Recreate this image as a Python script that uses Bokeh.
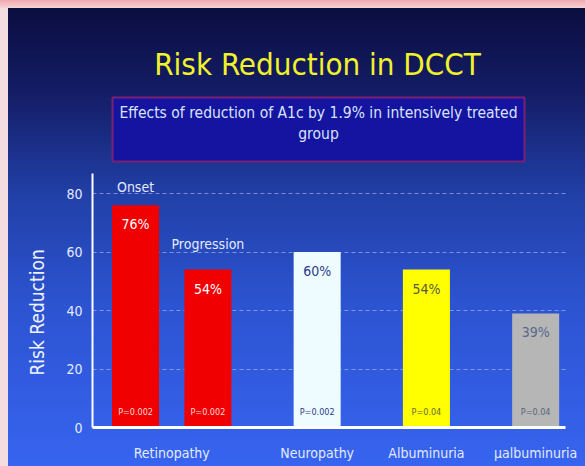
from bokeh.plotting import figure
from bokeh.models import (ColumnDataSource, FixedTicker, Label, BoxAnnotation, Title,
                          GlobalInlineStyleSheet)
from bokeh.core.properties import value
from bokeh.embed import file_html
from bokeh.resources import INLINE

# ---- data ----
categories = ["Retinopathy", "Retinopathy", "Neuropathy", "Albuminuria", "μalbuminuria"]
subgroups = ["Onset", "Progression", "", "", ""]
reductions = [76, 54, 60, 54, 39]
value_labels = ["76%", "54%", "60%", "54%", "39%"]
p_values = ["P=0.002", "P=0.002", "P=0.002", "P=0.04", "P=0.04"]
y_ticks = [0, 20, 40, 60, 80]
title_text = "Risk Reduction in DCCT"
subtitle_lines = ["Effects of reduction of A1c by 1.9% in intensively treated", "group"]
y_label = "Risk Reduction"

# ---- styles ----
bar_colors = ["#f00000", "#f00000", "#eefcff", "#ffff00", "#b6b6b6"]
value_text_colors = ["#ffffff", "#ffffff", "#2c3a86", "#5a5a40", "#56688a"]
p_text_colors = ["#ffd8d8", "#ffd8d8", "#2c3a86", "#6a6a30", "#5a6478"]
sub_offsets = [-18, -26, 0, 0, 0]
FONT = "DejaVu Sans Condensed"
TXT = "#e4eaff"
GROUP_GAP = 0.51

# bar positions: unit spacing inside a group, extra gap between groups
positions = []
for i, cat in enumerate(categories):
    if i == 0:
        positions.append(0.0)
    else:
        step = 1.0 if cat == categories[i - 1] else 1.0 + GROUP_GAP
        positions.append(positions[-1] + step)
group_names = []
for c in categories:
    if c not in group_names:
        group_names.append(c)
group_centers = [sum(pp for pp, c in zip(positions, categories) if c == g) /
                 sum(1 for c in categories if c == g) for g in group_names]

src = ColumnDataSource(dict(x=positions, top=reductions, label=value_labels,
                            sub=subgroups, pv=p_values, color=bar_colors,
                            vcolor=value_text_colors, pcolor=p_text_colors,
                            suboff=sub_offsets))

# ---- layout (pixels) ----
W, H = 585, 466
FL, FR, FB, FT = 92, 567, 427, 0          # frame edges
X0, X1 = -0.595, 5.97
Y1 = 146.0
def px_x(px):
    return X0 + (px - FL) * (X1 - X0) / (FR - FL)
def px_y(py):
    return (FB - py) * Y1 / (FB - FT)

p = figure(x_range=(X0, X1), y_range=(0, Y1), width=W, height=H,
           output_backend="svg", toolbar_location=None,
           min_border_left=FL, min_border_right=W - FR,
           min_border_top=FT, min_border_bottom=H - FB,
           background_fill_color=None, border_fill_color=None,
           outline_line_color=None)
p.styles = {"background": (
    "linear-gradient(#eda9ae, #f6d2d5) top left / 100% 8px no-repeat, "
    "linear-gradient(#f4dde0, #f4dde0) top left / 8px 100% no-repeat, "
    "linear-gradient(to bottom, #0a0c3c 0%, #141d66 20%, #2140a8 42%, #2c53d0 65%, #3764f0 100%)")}
p.stylesheets = [GlobalInlineStyleSheet(css="body { background: #f2d4d8; }")]

p.vbar(x="x", top="top", width=0.65, source=src, fill_color="color", line_color=None)
p.text(x="x", y="top", text="label", source=src, text_color="vcolor",
       text_font=value(FONT), text_font_size="14px", text_align="center",
       text_baseline="middle", y_offset=19)
p.text(x="x", y="top", text="sub", source=src, text_color=TXT,
       text_font=value(FONT), text_font_size="14px", text_align="center",
       text_baseline="middle", y_offset="suboff")
p.text(x="x", y=0, text="pv", source=src, text_color="pcolor",
       text_font=value(FONT), text_font_size="9px", text_align="center",
       text_baseline="middle", y_offset=-16)

# axes
p.yaxis.ticker = FixedTicker(ticks=y_ticks)
p.yaxis.bounds = (0, 87)
p.yaxis.axis_line_color = "white"
p.yaxis.axis_line_width = 2
p.yaxis.major_tick_line_color = None
p.yaxis.minor_tick_line_color = None
p.yaxis.major_label_text_color = TXT
p.yaxis.major_label_text_font_size = "14px"
p.yaxis.major_label_text_font = FONT
p.yaxis.major_label_standoff = 4

p.xaxis.ticker = FixedTicker(ticks=group_centers)
p.xaxis.bounds = (X0, px_x(565))
p.xaxis.major_label_overrides = {c: g for c, g in zip(group_centers, group_names)}
p.xaxis.axis_line_color = "white"
p.xaxis.axis_line_width = 3
p.xaxis.major_tick_line_color = None
p.xaxis.minor_tick_line_color = None
p.xaxis.major_label_text_font_size = "14px"
p.xaxis.major_label_text_font = FONT
p.xaxis.major_label_text_color = TXT
p.xaxis.major_label_standoff = 11

p.xgrid.grid_line_color = None
p.ygrid.grid_line_color = "#c0ccff"
p.ygrid.grid_line_alpha = 0.55
p.ygrid.grid_line_dash = "4 3"

# y axis title, placed along the axis rule
p.add_layout(Title(text=y_label, align="left", offset=52, standoff=30,
                   text_font=FONT, text_font_size="19px", text_font_style="normal",
                   text_color="#eef2ff", vertical_align="middle"), "left")

# header
p.add_layout(BoxAnnotation(left=px_x(112), right=px_x(524), top=px_y(97), bottom=px_y(161),
                           fill_color="#1414a0", fill_alpha=1.0,
                           line_color="#7a2070", line_width=2, line_alpha=1.0))
p.add_layout(Label(x=px_x(317), y=px_y(63), text=title_text, text_align="center",
                   text_baseline="alphabetic", text_font=FONT,
                   text_font_size="31px", text_color="#f2f22a"))
for txt, yy in zip(subtitle_lines, [112, 133]):
    p.add_layout(Label(x=px_x(318), y=px_y(yy), text=txt, text_align="center",
                       text_baseline="middle", text_font=FONT,
                       text_font_size="15.5px", text_color="#d9e2ff"))

open("out.html", "w").write(file_html(p, INLINE))
